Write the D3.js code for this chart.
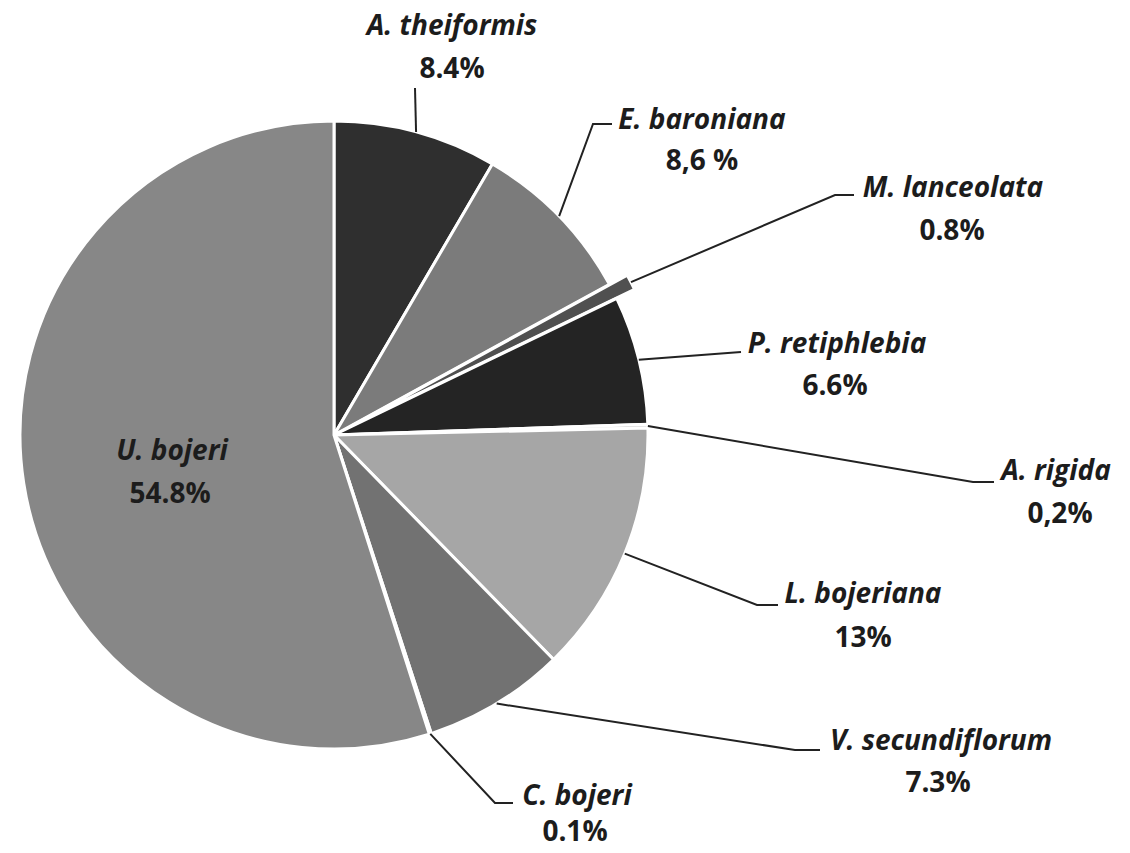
<!DOCTYPE html>
<html>
<head>
<meta charset="utf-8">
<script src="https://cdn.jsdelivr.net/npm/d3@7"></script>
<style>
  body { margin: 0; background: #fff; }
  text { font-family: "Open Sans", Lato, sans-serif; fill: #1c1c1c; }
  .name { font-style: italic; font-weight: bold; font-size: 28px; }
  .val { font-weight: bold; font-size: 28px; }
</style>
</head>
<body>
<svg id="pie-chart" width="1130" height="853"></svg>
<script>
// species, clockwise from 12 o'clock
const species = ["A. theiformis", "E. baroniana", "M. lanceolata", "P. retiphlebia", "A. rigida",
                 "L. bojeriana", "V. secundiflorum", "C. bojeri", "U. bojeri"];
const shares = [8.4, 8.6, 0.8, 6.6, 0.2, 13, 7.3, 0.1, 54.8];
const shareLabels = ["8.4%", "8,6 %", "0.8%", "6.6%", "0,2%", "13%", "7.3%", "0.1%", "54.8%"];
const fills = ["#2f2f2f", "#7b7b7b", "#505050", "#242424", "#c8c8c8", "#a6a6a6", "#727272", "#9a9a9a", "#878787"];

// label layout (page px): name centre, value centre, leader elbow + stub end
const labelLayout = [
  { nx: 452, ny: 25, vx: 452, vy: 68, pts: [[415, 88]] },
  { nx: 702, ny: 119, vx: 702, vy: 160, pts: [[593, 124], [612, 124]] },
  { nx: 953, ny: 187, vx: 952, vy: 230, pts: [[835, 195], [854, 195]] },
  { nx: 837, ny: 343, vx: 835, vy: 385, pts: [[741, 352]] },
  { nx: 1056, ny: 470, vx: 1060, vy: 513, pts: [[973, 482], [994, 482]] },
  { nx: 863, ny: 593, vx: 863, vy: 637, pts: [[757, 605], [778, 605]] },
  { nx: 941, ny: 740, vx: 938, vy: 782, pts: [[795, 750], [820, 750]] },
  { nx: 577, ny: 795, vx: 575, vy: 831, pts: [[495, 803], [513, 803]] },
  { nx: 172, ny: 450, vx: 170, vy: 493, pts: null }
];

let svg = d3.select("#pie-chart"),
    cx = 334, cy = 435, radius = 314;
let g = svg.append("g").attr("transform", "translate(" + cx + "," + cy + ")");

let pie = d3.pie().sort(null).value(d => d);
let arc = d3.arc().innerRadius(0).outerRadius(radius);
let edge = d3.arc().innerRadius(radius).outerRadius(radius);
let arcs = pie(shares);

// the thin M. lanceolata slice is pulled out a little
function pull(d, i) {
  if (i !== 2) return [0, 0];
  let a = (d.startAngle + d.endAngle) / 2;
  return [Math.sin(a) * 20, -Math.cos(a) * 20];
}

g.selectAll("path.slice")
  .data(arcs)
  .enter()
  .append("path")
  .attr("class", "slice")
  .attr("d", arc)
  .attr("transform", (d, i) => "translate(" + pull(d, i) + ")")
  .attr("fill", (d, i) => fills[i])
  .attr("stroke", "#fff")
  .attr("stroke-width", 3)
  .attr("stroke-linejoin", "round");

// leader lines
let line = d3.line();
arcs.forEach(function(d, i) {
  let lay = labelLayout[i];
  if (!lay.pts) return;
  let p = edge.centroid(d), o = pull(d, i);
  let start = [p[0] + o[0] + cx, p[1] + o[1] + cy];
  svg.append("path")
    .attr("d", line([start].concat(lay.pts)))
    .attr("fill", "none")
    .attr("stroke", "#222")
    .attr("stroke-width", 2);
});

// labels
labelLayout.forEach(function(lay, i) {
  svg.append("text")
    .attr("class", "name")
    .attr("x", lay.nx)
    .attr("y", lay.ny)
    .attr("dy", "0.35em")
    .attr("text-anchor", "middle")
    .text(species[i]);
  svg.append("text")
    .attr("class", "val")
    .attr("x", lay.vx)
    .attr("y", lay.vy)
    .attr("dy", "0.35em")
    .attr("text-anchor", "middle")
    .text(shareLabels[i]);
});
</script>
</body>
</html>
